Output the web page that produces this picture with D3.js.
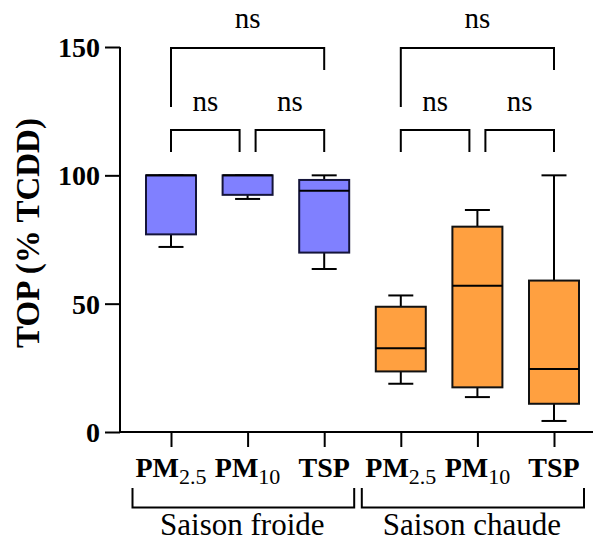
<!DOCTYPE html>
<html>
<head>
<meta charset="utf-8">
<script src="https://cdn.jsdelivr.net/npm/d3@7"></script>
<style>
  html, body { margin: 0; padding: 0; background: #fff; }
  svg { display: block; font-family: "Liberation Serif", "Times New Roman", serif; }
</style>
</head>
<body>
<svg id="chart" width="595" height="545"></svg>
<script>
// ---- data ----
var labels   = ["PM", "PM", "TSP", "PM", "PM", "TSP"];
var subs     = ["2.5", "10", "", "2.5", "10", ""];
var seasons  = ["froide", "froide", "froide", "chaude", "chaude", "chaude"];
var groupNames = ["Saison froide", "Saison chaude"];
var whiskLo  = [72.1, 90.8, 63.5, 18.8, 13.6, 4.3];
var q1       = [77.0, 92.4, 69.9, 23.6, 17.4, 11.0];
var median   = [100, 100, 94.0, 32.6, 57.0, 24.5];
var q3       = [100, 100, 98.2, 48.8, 80.0, 59.0];
var whiskHi  = [100, 100, 100, 53.2, 86.5, 100];
var yTicks   = [0, 50, 100, 150];
// pairwise tests: [from, to, label]
var lowPairs = [[0, 1, "ns"], [1, 2, "ns"], [3, 4, "ns"], [4, 5, "ns"]];
var topPairs = [[0, 2, "ns"], [3, 5, "ns"]];

var fills = { froide: "#8080ff", chaude: "#ffa040" };

var svg = d3.select("#chart");
var idx = d3.range(labels.length);

var x = d3.scalePoint().domain(idx).range([132.7, 592.3]).padding(0.5);
var y = d3.scaleLinear().domain([0, 150]).range([432, 47]);
var boxW = 50, capW = 25;

// ---- axes ----
var yAxis = d3.axisLeft(y).tickValues(yTicks).tickSize(15).tickPadding(5);
var gy = svg.append("g").attr("transform", "translate(120,0)").call(yAxis);
gy.select(".domain").remove();
gy.selectAll(".tick line").attr("stroke", "#000").attr("stroke-width", 2);
gy.selectAll(".tick text")
  .attr("font-size", 28).attr("font-weight", "bold").attr("fill", "#000")
  .attr("font-family", "Liberation Serif, serif").attr("dy", "0.34em");

var xAxis = d3.axisBottom(x).tickSize(15).tickFormat("");
var gx = svg.append("g").attr("transform", "translate(0,432)").call(xAxis);
gx.select(".domain").remove();
gx.selectAll(".tick line").attr("stroke", "#000").attr("stroke-width", 2);

svg.append("line").attr("x1", 120).attr("x2", 120).attr("y1", y(150)).attr("y2", y(0) + 1)
  .attr("stroke", "#000").attr("stroke-width", 2);
svg.append("line").attr("x1", 119).attr("x2", 593).attr("y1", y(0)).attr("y2", y(0))
  .attr("stroke", "#000").attr("stroke-width", 2);

// y title
svg.append("text")
  .attr("transform", "translate(39,233) rotate(-90)")
  .attr("text-anchor", "middle").attr("font-size", 33).attr("font-weight", "bold")
  .text("TOP (% TCDD)");

// x labels with subscripts
var xl = svg.append("g").selectAll("text").data(idx).join("text")
  .attr("x", function (i) { return x(i); }).attr("y", 476.5)
  .attr("text-anchor", "middle");
xl.append("tspan").attr("font-size", 28).attr("font-weight", "bold").text(function (i) { return labels[i]; });
xl.filter(function (i) { return subs[i]; }).append("tspan")
  .attr("font-size", 22).attr("dy", 7.5).text(function (i) { return subs[i]; });

// season brackets
var groups = [[0, 2], [3, 5]];
groups.forEach(function (g, k) {
  var xa = x(g[0]) - (k === 0 ? 38.5 : 39), xb = x(g[1]) + 30;
  svg.append("path")
    .attr("d", "M" + xa + ",488V507.5H" + xb + "V488")
    .attr("fill", "none").attr("stroke", "#000").attr("stroke-width", 2);
  svg.append("text").attr("x", (xa + xb) / 2 - 1).attr("y", 535)
    .attr("text-anchor", "middle").attr("font-size", 31).text(groupNames[k]);
});

// ---- boxes ----
var bx = svg.append("g").selectAll("g").data(idx).join("g");
bx.append("line")
  .attr("x1", function (i) { return x(i); }).attr("x2", function (i) { return x(i); })
  .attr("y1", function (i) { return y(whiskLo[i]); }).attr("y2", function (i) { return y(whiskHi[i]); })
  .attr("stroke", "#000").attr("stroke-width", 2);
bx.append("line")
  .attr("x1", function (i) { return x(i) - capW / 2; }).attr("x2", function (i) { return x(i) + capW / 2; })
  .attr("y1", function (i) { return y(whiskLo[i]); }).attr("y2", function (i) { return y(whiskLo[i]); })
  .attr("stroke", "#000").attr("stroke-width", 2);
bx.append("line")
  .attr("x1", function (i) { return x(i) - capW / 2; }).attr("x2", function (i) { return x(i) + capW / 2; })
  .attr("y1", function (i) { return y(whiskHi[i]); }).attr("y2", function (i) { return y(whiskHi[i]); })
  .attr("stroke", "#000").attr("stroke-width", 2);
bx.append("rect")
  .attr("x", function (i) { return x(i) - boxW / 2; }).attr("width", boxW)
  .attr("y", function (i) { return y(q3[i]); })
  .attr("height", function (i) { return y(q1[i]) - y(q3[i]); })
  .attr("fill", function (i) { return fills[seasons[i]]; })
  .attr("stroke", function (i) { return seasons[i] === "froide" ? "#14143a" : "#111"; })
  .attr("stroke-width", 2);
bx.append("line")
  .attr("x1", function (i) { return x(i) - boxW / 2; }).attr("x2", function (i) { return x(i) + boxW / 2; })
  .attr("y1", function (i) { return y(median[i]); }).attr("y2", function (i) { return y(median[i]); })
  .attr("stroke", "#000").attr("stroke-width", 2);

// ---- significance brackets ----
var ann = svg.append("g").attr("fill", "none").attr("stroke", "#000").attr("stroke-width", 2);
lowPairs.forEach(function (p) {
  var a = p[0], b = p[1];
  var xa = x(a) + (a % 3 === 1 ? 8 : 0), xb = x(b) - (b % 3 === 1 ? 8 : 0);
  var ya = Math.min(y(whiskHi[a]) - 23, 152), yb = Math.min(y(whiskHi[b]) - 23, 152);
  ann.append("path").attr("d", "M" + xa + "," + ya + "V130H" + xb + "V" + yb);
  svg.append("text").attr("x", (xa + xb) / 2).attr("y", 111)
    .attr("text-anchor", "middle").attr("font-size", 29).text(p[2]);
});
topPairs.forEach(function (p) {
  var xa = x(p[0]), xb = x(p[1]);
  ann.append("path").attr("d", "M" + xa + ",107V48H" + xb + "V70");
  svg.append("text").attr("x", (xa + xb) / 2).attr("y", 28)
    .attr("text-anchor", "middle").attr("font-size", 29).text(p[2]);
});
</script>
</body>
</html>
